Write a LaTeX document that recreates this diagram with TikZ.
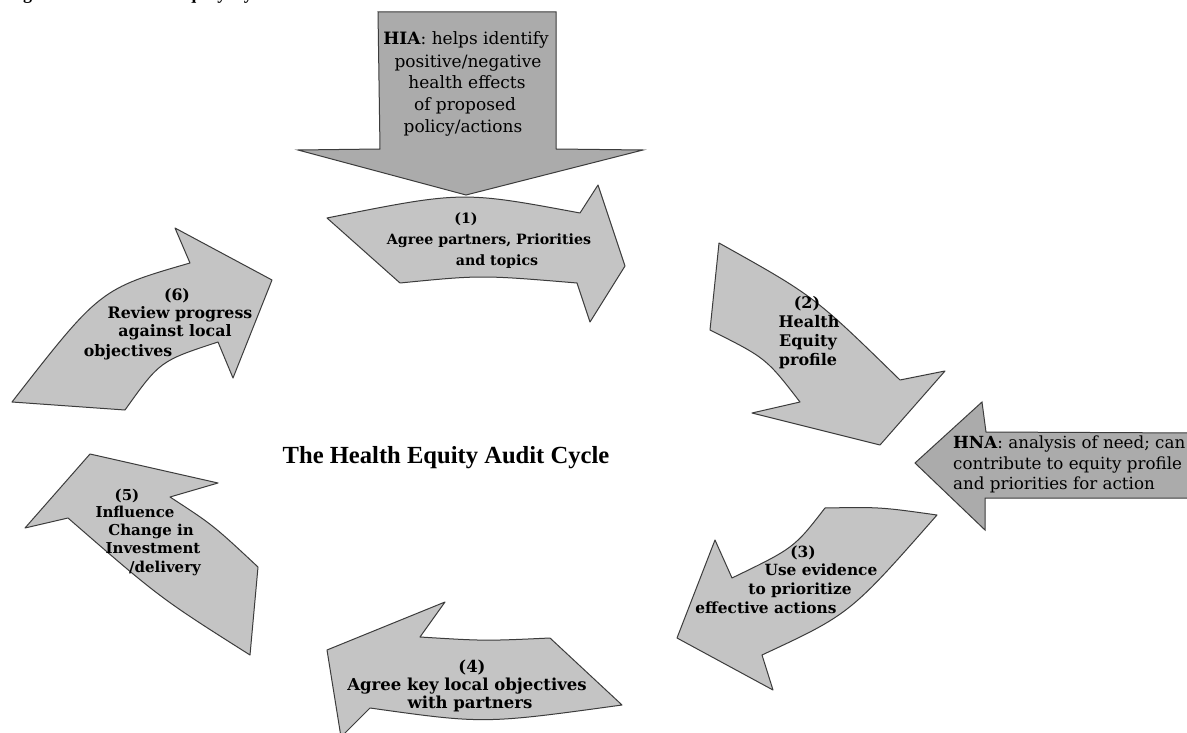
\documentclass[tikz,border=0pt]{standalone}
\usepackage{fontspec}
\setmainfont{DejaVu Serif}
\newfontfamily\titlefont{Liberation Serif}
\definecolor{cyclegray}{HTML}{C4C4C4}
\definecolor{sidegray}{HTML}{ABABAB}
\definecolor{edgegray}{HTML}{3C3C3C}
\begin{document}
\begin{tikzpicture}[x=1pt,y=-1pt,
  cyc/.style={fill=cyclegray, draw=edgegray, line width=1pt, line join=round},
  side/.style={fill=sidegray, draw=edgegray, line width=1pt, line join=miter},
  lbl/.style={font=\bfseries\fontsize{#1}{#1}\selectfont, anchor=base, inner sep=0pt},
  note/.style={font=\fontsize{#1}{#1}\selectfont, anchor=base, inner sep=0pt},
  titletxt/.style={font=\titlefont\bfseries\fontsize{24.6}{28}\selectfont, anchor=base, inner sep=0pt},
  captxt/.style={font=\titlefont\bfseries\fontsize{18}{20}\selectfont, anchor=base west, inner sep=0pt}]
\useasboundingbox (0,0) rectangle (1187,733);
\clip (0,0) rectangle (1187,733);
\fill[white] (0,0) rectangle (1187,733);

% caption line, mostly above the frame
\node[captxt] (caption) at (7,-0.5) {Figure 1: The Health Equity Cycle};

% input arrows
\draw[side] (378,12) -- (556,12) -- (556,149) -- (643,150) -- (466,195) -- (298,150) -- (380,149) -- cycle;
\draw[side] (1195,433) -- (986,432) -- (982,402) -- (915,463) -- (985,530) -- (985,498) -- (1195,498) -- cycle;

% the six curved cycle arrows
\draw[cyc] (327,218) .. controls (462,191) .. (580,213) -- (598,185) -- (625,266) -- (590,322) -- (577,283) .. controls (481,275) .. (400,283) -- cycle;
\draw[cyc] (719,243) .. controls (814,296) .. (900,380) -- (945,371) -- (880,445) -- (752,413) -- (800,402) .. controls (766,358) .. (710,330) -- cycle;
\draw[cyc] (825,508) .. controls (880,507) .. (937,515) .. controls (850,614) .. (762,655) -- (773,690) -- (677,638) -- (715,540) -- (732,578) .. controls (794,548) .. (825,508) -- cycle;
\draw[cyc] (550,638) -- (622,705) .. controls (484,724) .. (370,708) -- (341,737) -- (327,650) -- (445,602) -- (420,637) .. controls (485,641) .. (550,638) -- cycle;
\draw[cyc] (25,528) -- (90,454) -- (218,483) -- (170,497) .. controls (213,525) .. (258,567) -- (250,655) .. controls (160,598) .. (68,518) -- cycle;
\draw[cyc] (12,402) -- (125,410) .. controls (160,361) .. (218,342) -- (233,378) -- (272,280) -- (175,228) -- (190,263) .. controls (100,289) .. (12,402) -- cycle;

% HIA text
\node[note=17] (hia1) at (466,45) {\textbf{HIA}: helps identify};
\node[note=17] (hia2) at (468,68) {positive/negative};
\node[note=17] (hia3) at (467,89) {health effects};
\node[note=17] (hia4) at (465,111) {of proposed};
\node[note=17] (hia5) at (463,133) {policy/actions};

% HNA text
\node[note=16.7, anchor=base west] (hna1) at (953,448) {\textbf{HNA}: analysis of need; can};
\node[note=16.7, anchor=base west] (hna2) at (953,469) {contribute to equity profile};
\node[note=16.7, anchor=base west] (hna3) at (953,489) {and priorities for action};

% centre title
\node[titletxt] (title) at (446,463) {The Health Equity Audit Cycle};

% step labels
\node[lbl=14.2] (s1a) at (466,223.5) {(1)};
\node[lbl=14.2] (s1b) at (489,244.5) {Agree partners, Priorities};
\node[lbl=14.2] (s1c) at (497,265.5) {and topics};

\node[lbl=16] (s2a) at (807,308) {(2)};
\node[lbl=16] (s2b) at (809,327) {Health};
\node[lbl=16] (s2c) at (808,346) {Equity};
\node[lbl=16] (s2d) at (808,365) {profile};

\node[lbl=15.4] (s3a) at (803,557) {(3)};
\node[lbl=15.4] (s3b) at (821,575) {Use evidence};
\node[lbl=15.4] (s3c) at (800,594) {to prioritize};
\node[lbl=15.4] (s3d) at (766,613) {effective actions};

\node[lbl=16.5] (s4a) at (472,672) {(4)};
\node[lbl=16.5] (s4b) at (467,690) {Agree key local objectives};
\node[lbl=16.5] (s4c) at (470,708) {with partners};

\node[lbl=15] (s5a) at (127,500) {(5)};
\node[lbl=15] (s5b) at (135,517) {Influence};
\node[lbl=15] (s5c) at (151,535) {Change in};
\node[lbl=15] (s5d) at (153,553) {Investment};
\node[lbl=15] (s5e) at (165,572) {/delivery};

\node[lbl=15.8] (s6a) at (177,300) {(6)};
\node[lbl=15.8] (s6b) at (180,318) {Review progress};
\node[lbl=15.8] (s6c) at (175,336) {against local};
\node[lbl=15.8] (s6d) at (128,356) {objectives};
\end{tikzpicture}
\end{document}
